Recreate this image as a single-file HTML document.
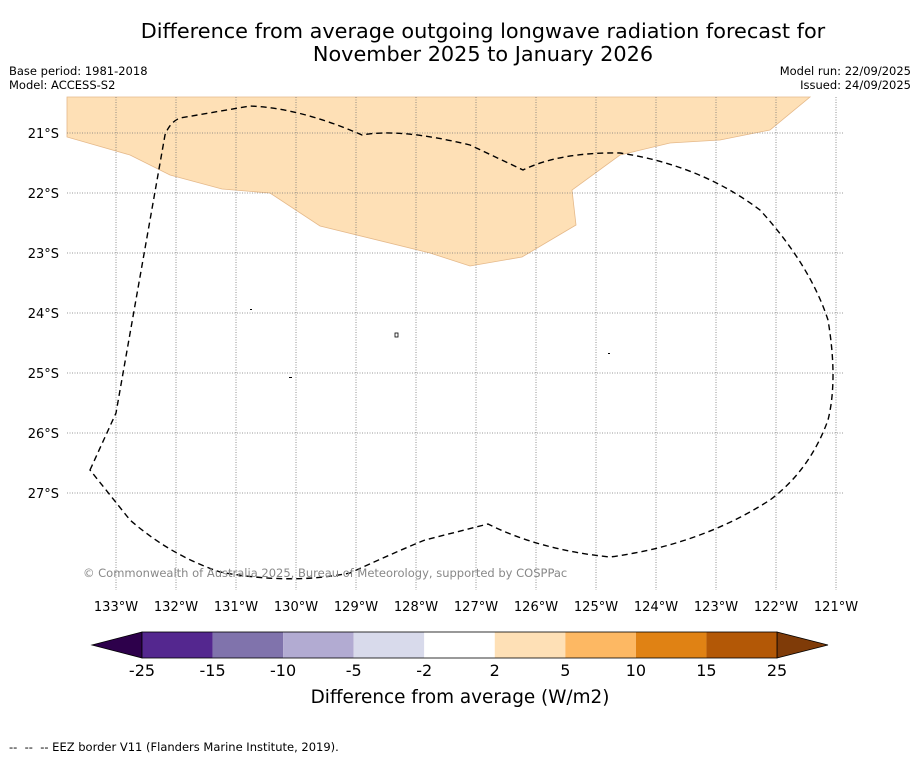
<!DOCTYPE html>
<html><head><meta charset="utf-8"><style>
body{margin:0;background:#fff;font-family:"Liberation Sans","DejaVu Sans",sans-serif;}
svg text{font-family:"DejaVu Sans","Liberation Sans",sans-serif;}
</style></head><body>
<svg width="919" height="758" viewBox="0 0 919 758">
<rect width="919" height="758" fill="#fff"/>
<text x="483" y="38" font-size="20.8" text-anchor="middle">Difference from average outgoing longwave radiation forecast for</text>
<text x="483" y="61" font-size="20.8" text-anchor="middle">November 2025 to January 2026</text>
<text x="9" y="75" font-size="11.5">Base period: 1981-2018</text>
<text x="9" y="89" font-size="11.5">Model: ACCESS-S2</text>
<text x="911" y="75" font-size="11.5" text-anchor="end">Model run: 22/09/2025</text>
<text x="911" y="89" font-size="11.5" text-anchor="end">Issued: 24/09/2025</text>
<g>
<polygon fill="#fee0b6" stroke="#e5b98a" stroke-width="0.8" points="67,97 810,97 770,130 720,140 670,143 620,155 572,190 576,225 522,257 470,266 430,253 320,226 270,193 222,189 170,175 130,155 67,137"/>
<g id="grid" stroke="#777" stroke-width="0.8" stroke-dasharray="1,1.5"></g>
<path fill="none" stroke="#000" stroke-width="1.4" stroke-dasharray="6,4" d="M90,470 L116,413 L165,135 Q170,122 180,118 L250,106 Q300,108 362,135 Q400,128 470,145 L523,170 Q560,152 620,153 Q700,165 760,210 Q810,265 828,320 Q838,380 828,420 Q810,470 770,500 Q700,545 610,557 Q540,550 488,524 L425,540 Q400,550 350,573 Q290,585 220,572 Q170,555 130,520 Z"/>
<g fill="#000"><rect x="250" y="309" width="2" height="1"/><rect x="395" y="333" width="3" height="4" fill="none" stroke="#000" stroke-width="0.8"/><rect x="289" y="377" width="3" height="1"/><rect x="608" y="353" width="2" height="1"/></g>
<text x="83" y="577" font-size="11.5" fill="#888">© Commonwealth of Australia 2025, Bureau of Meteorology, supported by COSPPac</text>
<g id="lonlabels" font-size="13" text-anchor="middle"></g>
<g id="latlabels" font-size="13" text-anchor="end"></g>
</g>
<g id="colorbar"></g>
<text x="460" y="703" font-size="18.4" text-anchor="middle">Difference from average (W/m2)</text>
<text x="9" y="751" font-size="11.5" xml:space="preserve">--  --  -- EEZ border V11 (Flanders Marine Institute, 2019).</text>
</svg>
<script>
const lons=[133,132,131,130,129,128,127,126,125,124,123,122,121];
const lats=[21,22,23,24,25,26,27];
const bounds=["-25","-15","-10","-5","-2","2","5","10","15","25"];
const colors=["#54278f","#8073ac","#b2abd2","#d8daeb","#ffffff","#fee0b6","#fdb863","#e08214","#b35806"];
const NS="http://www.w3.org/2000/svg";
const xOf=l=>116+(133-l)*60, yOf=a=>133+(a-21)*60;
const g=document.getElementById('grid'),ll=document.getElementById('lonlabels'),la=document.getElementById('latlabels');
function mk(t,a,p){const e=document.createElementNS(NS,t);for(const k in a)e.setAttribute(k,a[k]);p.appendChild(e);return e;}
lons.forEach(l=>{const x=xOf(l);
const ln=mk('line',{x1:x,x2:x,y1:97,y2:590},g);


const t=mk('text',{x:x,y:611},ll);t.textContent=l+'°W';

});
lats.forEach(a=>{const y=yOf(a);
const ln=mk('line',{x1:67,x2:843,y1:y,y2:y},g);


const t=mk('text',{x:59,y:y+5},la);t.textContent=a+'°S';

});
const cb=document.getElementById('colorbar');const x0=142,x1=777,y0=632,h=26,w=(x1-x0)/colors.length;
const le=mk('polygon',{points:`${x0},${y0} ${x0},${y0+h} 92,${y0+h/2}`,fill:'#2d004b',stroke:'#000','stroke-width':0.8},cb);


const re=mk('polygon',{points:`${x1},${y0} ${x1},${y0+h} 828,${y0+h/2}`,fill:'#7f3b08',stroke:'#000','stroke-width':0.8},cb);


colors.forEach((c,i)=>{const r=mk('rect',{x:x0+i*w,y:y0,width:w,height:h,fill:c},cb);

});
mk('rect',{x:x0,y:y0,width:x1-x0,height:h,fill:'none',stroke:'#000','stroke-width':0.8},cb);
bounds.forEach((b,i)=>{const t=mk('text',{x:x0+i*w,y:676,'font-size':16,'text-anchor':'middle'},cb);t.textContent=b;

});
</script>
</body></html>
